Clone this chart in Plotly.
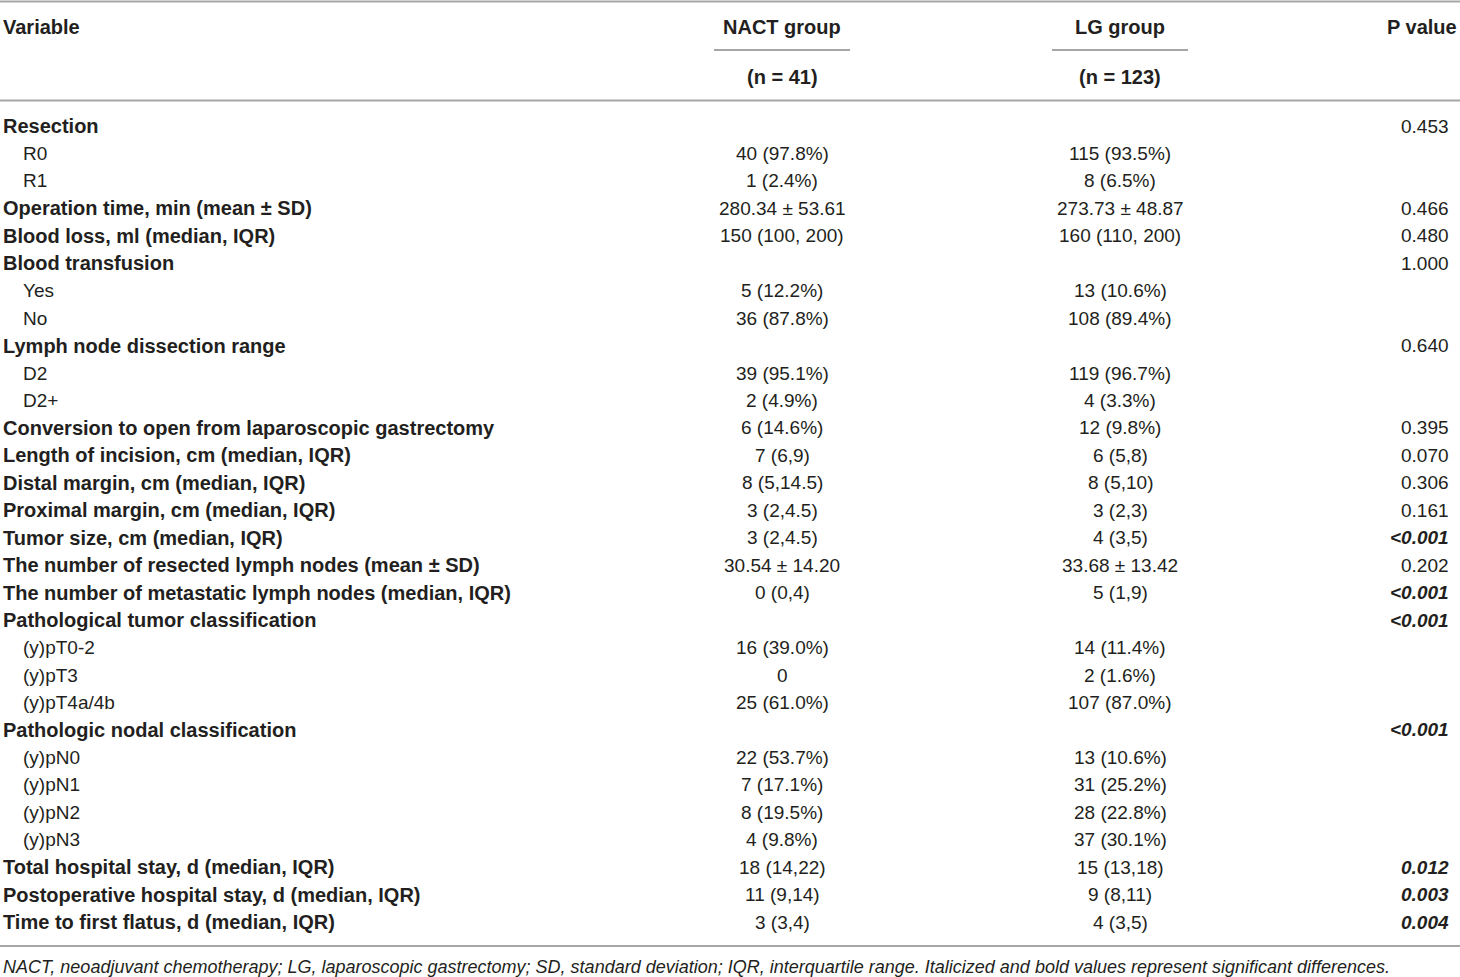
import plotly.graph_objects as go

# table content
variables = [
    "Resection", "R0", "R1",
    "Operation time, min (mean ± SD)",
    "Blood loss, ml (median, IQR)",
    "Blood transfusion", "Yes", "No",
    "Lymph node dissection range", "D2", "D2+",
    "Conversion to open from laparoscopic gastrectomy",
    "Length of incision, cm (median, IQR)",
    "Distal margin, cm (median, IQR)",
    "Proximal margin, cm (median, IQR)",
    "Tumor size, cm (median, IQR)",
    "The number of resected lymph nodes (mean ± SD)",
    "The number of metastatic lymph nodes (median, IQR)",
    "Pathological tumor classification", "(y)pT0-2", "(y)pT3", "(y)pT4a/4b",
    "Pathologic nodal classification", "(y)pN0", "(y)pN1", "(y)pN2", "(y)pN3",
    "Total hospital stay, d (median, IQR)",
    "Postoperative hospital stay, d (median, IQR)",
    "Time to first flatus, d (median, IQR)",
]
is_sub = [0, 1, 1, 0, 0, 0, 1, 1, 0, 1, 1, 0, 0, 0, 0, 0, 0, 0,
          0, 1, 1, 1, 0, 1, 1, 1, 1, 0, 0, 0]
nact = [
    "", "40 (97.8%)", "1 (2.4%)", "280.34 ± 53.61", "150 (100, 200)",
    "", "5 (12.2%)", "36 (87.8%)", "", "39 (95.1%)", "2 (4.9%)",
    "6 (14.6%)", "7 (6,9)", "8 (5,14.5)", "3 (2,4.5)", "3 (2,4.5)",
    "30.54 ± 14.20", "0 (0,4)", "", "16 (39.0%)", "0", "25 (61.0%)",
    "", "22 (53.7%)", "7 (17.1%)", "8 (19.5%)", "4 (9.8%)",
    "18 (14,22)", "11 (9,14)", "3 (3,4)",
]
lg = [
    "", "115 (93.5%)", "8 (6.5%)", "273.73 ± 48.87", "160 (110, 200)",
    "", "13 (10.6%)", "108 (89.4%)", "", "119 (96.7%)", "4 (3.3%)",
    "12 (9.8%)", "6 (5,8)", "8 (5,10)", "3 (2,3)", "4 (3,5)",
    "33.68 ± 13.42", "5 (1,9)", "", "14 (11.4%)", "2 (1.6%)", "107 (87.0%)",
    "", "13 (10.6%)", "31 (25.2%)", "28 (22.8%)", "37 (30.1%)",
    "15 (13,18)", "9 (8,11)", "4 (3,5)",
]
pvals = [
    "0.453", "", "", "0.466", "0.480", "1.000", "", "", "0.640", "", "",
    "0.395", "0.070", "0.306", "0.161", "<0.001", "0.202", "<0.001",
    "<0.001", "", "", "", "<0.001", "", "", "", "",
    "0.012", "0.003", "0.004",
]
significant = [p in ("<0.001", "0.012", "0.003", "0.004") for p in pvals]

headers = ["Variable", "NACT group", "LG group", "P value"]
n_labels = ["(n = 41)", "(n = 123)"]
footnote = ("NACT, neoadjuvant chemotherapy; LG, laparoscopic gastrectomy; "
            "SD, standard deviation; IQR, interquartile range. "
            "Italicized and bold values represent significant differences.")

W, H = 1460, 977
FONT = "Liberation Sans, Arial, sans-serif"
TXT = "#231f20"
LINE = "#a6a6a6"
fs = 19      # regular cells
fs_b = 20    # bold row labels

row0, step = 126, 27.45
x_var, x_sub, x_nact, x_lg, x_p = 1, 21, 782, 1120, 1451

ann = []
def add(x, y, t, anchor, size=fs):
    ann.append(dict(x=x, y=y, xref="x", yref="y", text=t, showarrow=False,
                    xanchor=anchor, yanchor="middle",
                    font=dict(family=FONT, size=size, color=TXT)))

# header
add(x_var, 27, "<b>" + headers[0] + "</b>", "left", fs_b)
add(x_nact, 27, "<b>" + headers[1] + "</b>", "center", fs_b)
add(x_lg, 27, "<b>" + headers[2] + "</b>", "center", fs_b)
add(1459, 27, "<b>" + headers[3] + "</b>", "right", fs_b)
add(x_nact, 77, "<b>" + n_labels[0] + "</b>", "center", fs_b)
add(x_lg, 77, "<b>" + n_labels[1] + "</b>", "center", fs_b)

for i, v in enumerate(variables):
    y = row0 + step * i
    if is_sub[i]:
        add(x_sub, y, v, "left")
    else:
        add(x_var, y, "<b>" + v + "</b>", "left", fs_b)
    if nact[i]:
        add(x_nact, y, nact[i], "center")
    if lg[i]:
        add(x_lg, y, lg[i], "center")
    if pvals[i]:
        t = pvals[i].replace("<", "&lt;")
        if significant[i]:
            t = "<b><i>" + t + "</i></b>"
        add(x_p, y, t, "right")

add(x_var, 967, "<i>" + footnote + "</i>", "left", size=18)

shapes = []
for y0, xa, xb in [(1.5, 0, W), (100.5, 0, W), (946, 0, W),
                   (50, 714, 850), (50, 1052, 1188)]:
    shapes.append(dict(type="line", xref="x", yref="y", x0=xa, x1=xb,
                       y0=y0, y1=y0, line=dict(color=LINE, width=2)))

fig = go.Figure()
fig.update_layout(
    width=W, height=H,
    margin=dict(l=0, r=0, t=0, b=0),
    paper_bgcolor="white", plot_bgcolor="white",
    xaxis=dict(range=[0, W], visible=False, fixedrange=True),
    yaxis=dict(range=[H, 0], visible=False, fixedrange=True),
    annotations=ann, shapes=shapes, showlegend=False,
)
fig.write_html("out.html", config={"displayModeBar": False},
               post_script="document.body.style.margin='0';")
